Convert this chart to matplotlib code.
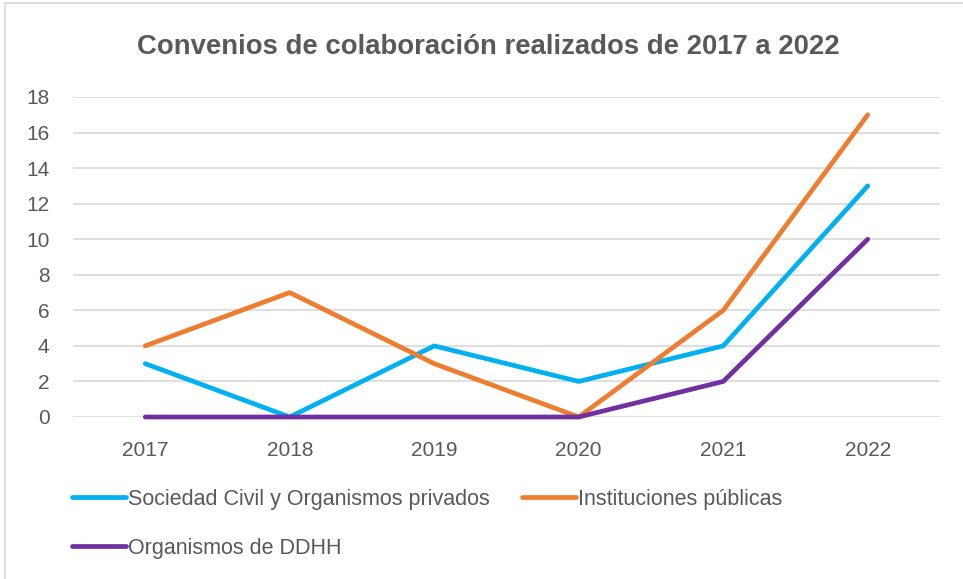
import matplotlib.pyplot as plt
from matplotlib.patches import Rectangle

years = ["2017", "2018", "2019", "2020", "2021", "2022"]
sociedad = [3, 0, 4, 2, 4, 13]
instituciones = [4, 7, 3, 0, 6, 17]
ddhh = [0, 0, 0, 0, 2, 10]

plt.rcParams['font.family'] = ['Liberation Sans', 'DejaVu Sans']
gray = '#595959'

fig = plt.figure(figsize=(9.63, 5.79), dpi=100)
ax = fig.add_axes([73 / 963, 1 - 417 / 579, (940 - 73) / 963, (417 - 97) / 579])

# chart border
fig.patches.append(Rectangle((5 / 963, -0.1), 1.1, 1 - 3 / 579 + 0.1, transform=fig.transFigure,
                             fill=False, edgecolor='#d9d9d9', linewidth=1.2))

x = list(range(len(years)))
l1, = ax.plot(x, sociedad, color='#00B0F0', lw=3.4, solid_capstyle='round', clip_on=False,
              label='Sociedad Civil y Organismos privados')
l2, = ax.plot(x, instituciones, color='#ED7D31', lw=3.4, solid_capstyle='round', clip_on=False,
              label='Instituciones públicas')
l3, = ax.plot(x, ddhh, color='#7030A0', lw=3.4, solid_capstyle='round', clip_on=False,
              label='Organismos de DDHH')

ax.set_xlim(-0.5, 5.5)
ax.set_ylim(0, 18)
ax.set_yticks(range(0, 19, 2))
ax.set_xticks(x)
ax.set_xticklabels(years)
ax.grid(axis='y', color='#d9d9d9', lw=1.2)
ax.set_axisbelow(True)
for s in ax.spines.values():
    s.set_visible(False)
ax.tick_params(length=0, labelsize=15, colors=gray)
ax.tick_params(axis='x', pad=17)
ax.tick_params(axis='y', pad=17)

fig.text(488 / 963, 1 - 47 / 579, "Convenios de colaboración realizados de 2017 a 2022",
         ha='center', va='center', fontsize=19.8, fontweight='bold', color=gray)

leg = fig.legend([l1, l3, l2], [l1.get_label(), l3.get_label(), l2.get_label()],
                 ncol=2, loc='upper left', bbox_to_anchor=(72 / 963, 1 - 489 / 579),
                 frameon=False, fontsize=15.5, handlelength=2.5, handletextpad=0.1,
                 columnspacing=1.5, labelspacing=1.3, borderaxespad=0, borderpad=0)
for t in leg.get_texts():
    t.set_color(gray)

fig.savefig('out.png', dpi=100)
